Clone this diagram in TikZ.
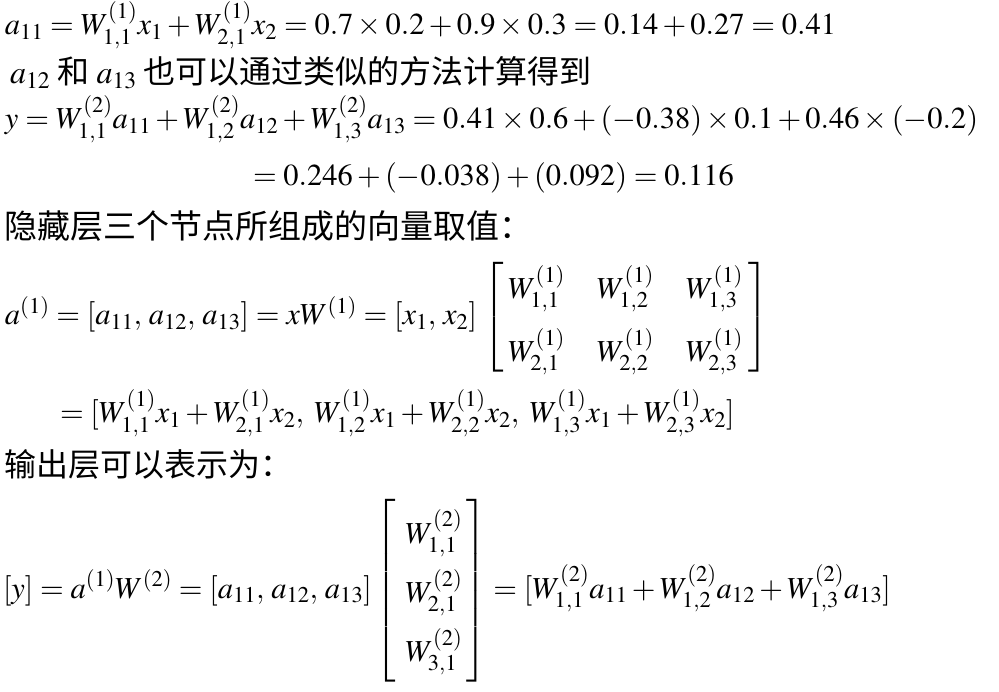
\documentclass[tikz,border=0pt]{standalone}
\usepackage{amsmath}
\usepackage{mathptmx}
\usepackage[no-math]{fontspec}
\newfontfamily\cjk{Noto Sans CJK SC}
\usetikzlibrary{positioning}

\begin{document}
\begin{tikzpicture}
  [
  x=1pt, y=-1pt,
  % 文字の配置
  every node/.style={inner sep=0, outer sep=0, anchor=base west},
  % 数式の行
  eqline/.style={font=\fontsize{30.5}{37}\selectfont},
  % 中文の行
  cnline/.style={font=\fontsize{32}{38}\selectfont\cjk}
  ]
  \useasboundingbox (0,0) rectangle (999,692);
  \node [eqline] (a11) at (5,35)
  {$a_{11}=W^{(1)}_{1,1}x_1+W^{(1)}_{2,1}x_2=0.7\times0.2+0.9\times0.3=0.14+0.27=0.41$};
  \node [cnline] (same) at (10,84)
  {$a_{12}$ 和 $a_{13}$ 也可以通过类似的方法计算得到};
  \node [eqline] (y) at (5,129)
  {$y=W^{(2)}_{1,1}a_{11}+W^{(2)}_{1,2}a_{12}+W^{(2)}_{1,3}a_{13}=0.41\times0.6+(-0.38)\times0.1+0.46\times(-0.2)$};
  \node [eqline] (ysum) at (253,186)
  {$=0.246+(-0.038)+(0.092)=0.116$};
  \node [cnline, font=\fontsize{33}{38}\selectfont\cjk] (hidden) at (5,239)
  {隐藏层三个节点所组成的向量取值：};
  % 隐藏层の行列
  \node [eqline] (aone) at (5,325)
  {$\delimiterfactor=850 \delimitershortfall=20pt
    \renewcommand{\arraystretch}{1.7}
    a^{(1)}=[a_{11},\,a_{12},\,a_{13}]=xW^{(1)}=[x_1,\,x_2]\,
    \left[\begin{array}{@{\hspace{4pt}}c@{\hspace{32pt}}c@{\hspace{32pt}}c@{\hspace{6pt}}}
      W^{(1)}_{1,1} & W^{(1)}_{1,2} & W^{(1)}_{1,3}\\
      W^{(1)}_{2,1} & W^{(1)}_{2,2} & W^{(1)}_{2,3}
    \end{array}\right]$};
  \node [eqline] (aonex) at (60,423)
  {$=[W^{(1)}_{1,1}x_1+W^{(1)}_{2,1}x_2,\;W^{(1)}_{1,2}x_1+W^{(1)}_{2,2}x_2,\;W^{(1)}_{1,3}x_1+W^{(1)}_{2,3}x_2]$};
  \node [cnline] (output) at (5,476) {输出层可以表示为：};
  % 输出层の列ベクトル
  \node [eqline] (yvec) at (3,598)
  {$\renewcommand{\arraystretch}{1.6}
    [y]=a^{(1)}W^{(2)}=[a_{11},\,a_{12},\,a_{13}]
    \left[\begin{array}{@{\hspace{10pt}}c@{\hspace{4pt}}}
      W^{(2)}_{1,1}\\ W^{(2)}_{2,1}\\ W^{(2)}_{3,1}
    \end{array}\right]
    =[W^{(2)}_{1,1}a_{11}+W^{(2)}_{1,2}a_{12}+W^{(2)}_{1,3}a_{13}]$};
\end{tikzpicture}
\end{document}
